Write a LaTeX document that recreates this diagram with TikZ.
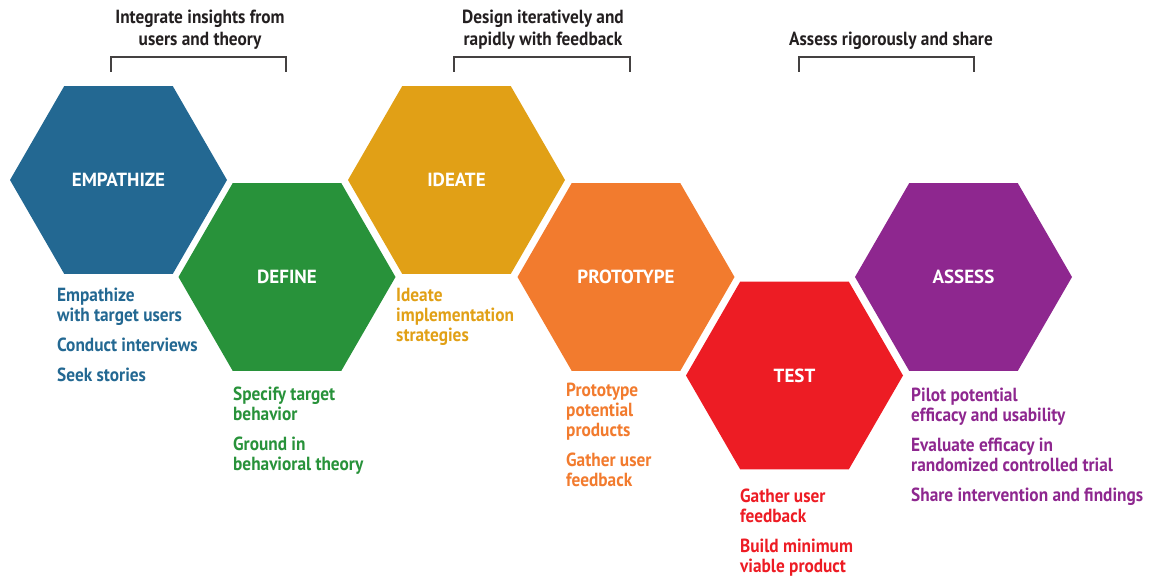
\documentclass[tikz,border=0pt]{standalone}
\usepackage{fontspec}
\setmainfont{PT Sans}
\newfontfamily\narrowfont{PT Sans}[FakeStretch=0.91]
\usetikzlibrary{shapes.geometric, positioning}
\definecolor{empblue}{RGB}{35,104,146}
\definecolor{defgreen}{RGB}{40,146,58}
\definecolor{ideagold}{RGB}{225,160,22}
\definecolor{protoorange}{RGB}{242,123,46}
\definecolor{testred}{RGB}{237,28,36}
\definecolor{assesspurple}{RGB}{142,39,143}
\definecolor{headgray}{RGB}{35,31,32}

\begin{document}
\begin{tikzpicture}[x=1pt, y=-1pt]
    \tikzstyle{hex}=[regular polygon, regular polygon sides=6, minimum size=217pt, inner sep=0pt, text=white, font=\bfseries\fontsize{19}{19}\selectfont];
    \tikzstyle{steps}=[anchor=north west, align=left, inner sep=0pt, font=\narrowfont\bfseries\fontsize{19}{20}\selectfont];
    \tikzstyle{head}=[anchor=north, align=center, inner sep=0pt, text=headgray, font=\narrowfont\bfseries\fontsize{19}{22}\selectfont];
    \tikzstyle{bracket}=[draw=headgray!85, line width=1.3pt];

    \useasboundingbox (0,0) rectangle (1157,578);

    % hexagons
    \node[hex, fill=empblue] (empathize) at (118.5,180) {EMPATHIZE};
    \node[hex, fill=defgreen] (define) at (287,277) {DEFINE};
    \node[hex, fill=ideagold] (ideate) at (456.5,180) {IDEATE};
    \node[hex, fill=protoorange] (prototype) at (626,277) {PROTOTYPE};
    \node[hex, fill=testred] (test) at (794.5,375.5) {TEST};
    \node[hex, fill=assesspurple] (assess) at (963.5,277) {ASSESS};

    % headers and brackets
    \node[head] (integrate) at (200,10) {Integrate insights from\\users and theory};
    \node[head] (iterate) at (543,10) {Design iteratively and\\rapidly with feedback};
    \node[head] (rigorous) at (891,32) {Assess rigorously and share};
    \draw[bracket] (111,72) |- (286,57) -- (286,72);
    \draw[bracket] (454,72) |- (630,57) -- (630,72);
    \draw[bracket] (799,72) |- (974,57) -- (974,72);

    % activities
    \node[steps, text=empblue] (empathizesteps) at (57,288) {Empathize\\with target users\\[10pt]Conduct interviews\\[10pt]Seek stories};
    \node[steps, text=defgreen] (definesteps) at (233,387) {Specify target\\behavior\\[10pt]Ground in\\behavioral theory};
    \node[steps, text=ideagold] (ideatesteps) at (396,288) {Ideate\\implementation\\strategies};
    \node[steps, text=protoorange] (prototypesteps) at (566,383) {Prototype\\potential\\products\\[10pt]Gather user\\feedback};
    \node[steps, text=testred] (teststeps) at (740,489) {Gather user\\feedback\\[10pt]Build minimum\\viable product};
    \node[steps, text=assesspurple] (assesssteps) at (911,388) {Pilot potential\\efficacy and usability\\[10pt]Evaluate efficacy in\\randomized controlled trial\\[10pt]Share intervention and findings};
\end{tikzpicture}
\end{document}
